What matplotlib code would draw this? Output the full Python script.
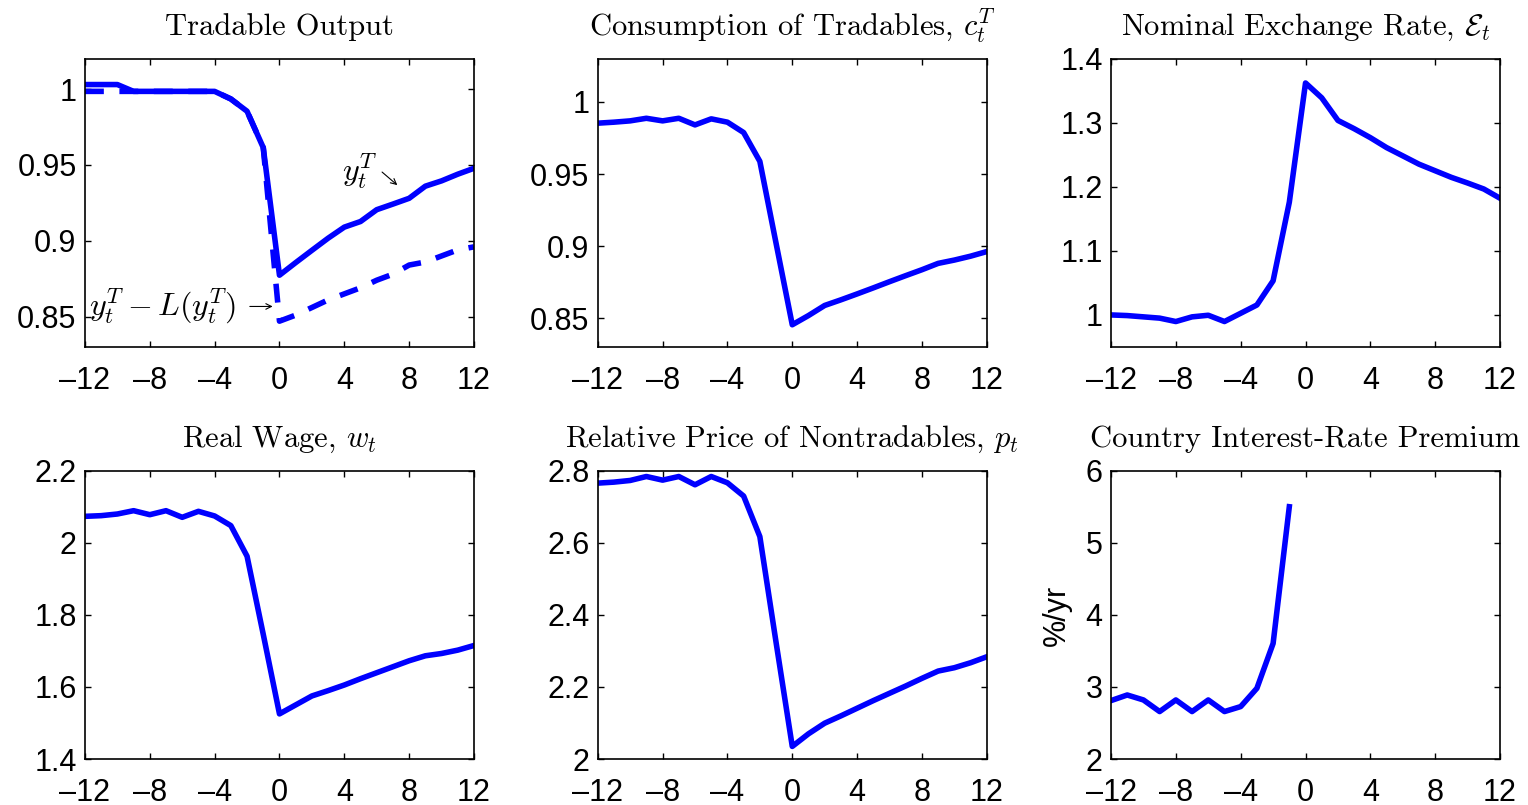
import numpy as np
import matplotlib
matplotlib.use('Agg')
import matplotlib.pyplot as plt

plt.rcParams['font.family'] = ['Liberation Sans', 'DejaVu Sans']
plt.rcParams['mathtext.fontset'] = 'cm'

t = np.arange(-12, 13)

yT = [1.003, 1.003, 1.003, 0.9985, 0.9985, 0.9985, 0.9985, 0.9985, 0.9985,
      0.9935, 0.9854, 0.9614, 0.8773, 0.8856, 0.8937, 0.9017, 0.909, 0.9127,
      0.9205, 0.9242, 0.928, 0.936, 0.9395, 0.9439, 0.9478]
yT_loss = [0.9985, 0.9985, 0.9985, 0.9985, 0.9985, 0.9985, 0.9985, 0.9985, 0.9985,
           0.9935, 0.9854, 0.9614, 0.847, 0.851, 0.856, 0.861, 0.865, 0.869,
           0.874, 0.878, 0.884, 0.886, 0.890, 0.894, 0.896]
cT = [0.9853, 0.986, 0.9869, 0.9887, 0.9869, 0.9887, 0.9841, 0.9883, 0.986,
      0.9788, 0.9588, 0.902, 0.8454, 0.8518, 0.8588, 0.8627, 0.8668, 0.871,
      0.8753, 0.8795, 0.8836, 0.888, 0.8903, 0.893, 0.8962]
exch = [1.0, 0.999, 0.997, 0.995, 0.9897, 0.997, 0.9995, 0.9897, 1.0026,
        1.0155, 1.0533, 1.176, 1.3622, 1.339, 1.3037, 1.2908, 1.2768, 1.2613,
        1.2484, 1.2354, 1.2251, 1.2148, 1.206, 1.1966, 1.1822]
wage = [2.0737, 2.0756, 2.0802, 2.0894, 2.0783, 2.0894, 2.071, 2.0876, 2.0747,
        2.048, 1.963, 1.746, 1.5253, 1.5502, 1.5751, 1.5899, 1.6055, 1.623,
        1.6396, 1.6562, 1.6728, 1.6866, 1.693, 1.7023, 1.7152]
pN = [2.7659, 2.7687, 2.7733, 2.7843, 2.7742, 2.7843, 2.7613, 2.7843, 2.7668,
      2.73, 2.6175, 2.324, 2.035, 2.07, 2.0995, 2.1198, 2.141, 2.1622,
      2.1825, 2.2028, 2.224, 2.2442, 2.2535, 2.2673, 2.2839]
premium = [2.811, 2.889, 2.82, 2.659, 2.82, 2.659, 2.82, 2.659, 2.728,
           2.982, 3.604, 5.502] + [np.nan] * 13

titles = ['Tradable Output', 'Consumption of Tradables, $c_t^T$',
          r'Nominal Exchange Rate, $\mathcal{E}_t$', 'Real Wage, $w_t$',
          'Relative Price of Nontradables, $p_t$', 'Country Interest-Rate Premium']
series = [yT, cT, exch, wage, pN, premium]
ylims = [(0.83, 1.02), (0.83, 1.03), (0.95, 1.4), (1.4, 2.2), (2, 2.8), (2, 6)]
yticks = [[0.85, 0.9, 0.95, 1], [0.85, 0.9, 0.95, 1], [1, 1.1, 1.2, 1.3, 1.4],
          [1.4, 1.6, 1.8, 2, 2.2], [2, 2.2, 2.4, 2.6, 2.8], [2, 3, 4, 5, 6]]
xticks = [-12, -8, -4, 0, 4, 8, 12]

fig = plt.figure(figsize=(15.28, 8.05), dpi=100)
lefts = [0.0556, 0.3912, 0.7271]
bottoms = [0.569, 0.0571]
blue = (0, 0, 1)

for i in range(6):
    r, c = divmod(i, 3)
    ax = fig.add_axes([lefts[c], bottoms[r], 0.2546, 0.358])
    ax.plot(t, series[i], color=blue, lw=4)
    if i == 0:
        ax.plot(t, yT_loss, color=blue, lw=4, dashes=(3.4, 2.8))
    ax.set_xlim(-12, 12)
    ax.set_ylim(*ylims[i])
    ax.set_xticks(xticks)
    ax.set_xticklabels([('\u2013' + str(-v)) if v < 0 else str(v) for v in xticks])
    ax.set_yticks(yticks[i])
    ax.set_yticklabels(['%g' % v for v in yticks[i]])
    ax.tick_params(direction='in', length=4, width=1, top=True, right=True,
                   labelsize=22)
    ax.tick_params(axis='x', pad=13.5)
    ax.tick_params(axis='y', pad=6)
    for s in ax.spines.values():
        s.set_linewidth(1.2)
    ax.set_title(titles[i], family='cmr10', fontsize=22, pad=17)
    if i == 0:
        ax.text(4.95, 0.946, '$y_t^T$', fontsize=23, ha='center', va='center')
        ax.annotate('', xy=(7.4, 0.9355), xytext=(6.2, 0.9465),
                    arrowprops=dict(arrowstyle='->', lw=0.8, color='k'))
        ax.text(-2.7, 0.8567, '$y_t^T - L(y_t^T)$', fontsize=23,
                ha='right', va='center')
        ax.annotate('', xy=(-0.25, 0.8567), xytext=(-2.0, 0.8567),
                    arrowprops=dict(arrowstyle='->', lw=0.8, color='k'))
    if i == 5:
        ax.set_ylabel('%/yr', fontsize=22, labelpad=10)

fig.savefig('out.png', dpi=100)
